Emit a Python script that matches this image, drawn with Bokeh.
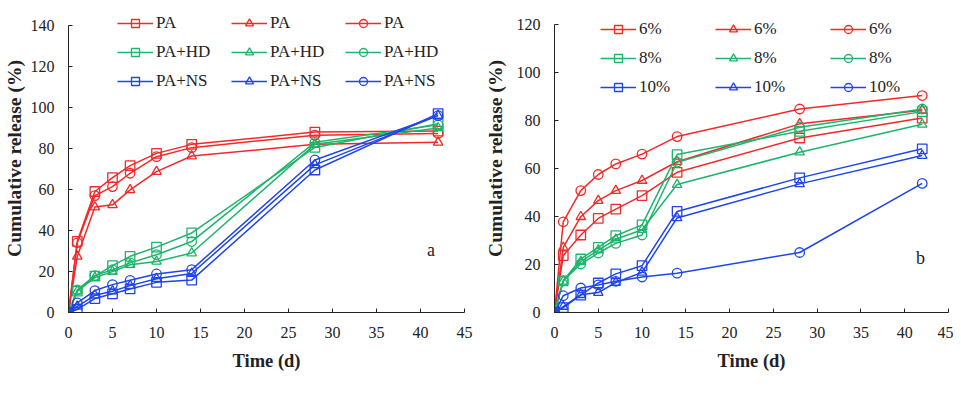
from bokeh.plotting import figure
from bokeh.models import Range1d, Legend, LegendItem, Label, SingleIntervalTicker
from bokeh.layouts import row
from bokeh.embed import file_html
from bokeh.resources import INLINE

# ---------------- data ----------------
time_d = [0, 1, 3, 5, 7, 10, 14, 28, 42]

a_labels = ["PA", "PA+HD", "PA+NS"]
a_pa_sq = [0, 34.7, 59, 65.8, 71.6, 77.6, 82, 88, 88.5]
a_pa_tri = [0, 27.4, 51.4, 52.5, 59.8, 68.7, 76.3, 82, 83]
a_pa_ci = [0, 34, 57, 61.4, 67.9, 76, 80.4, 86.5, 87.3]
a_hd_sq = [0, 10.4, 17.7, 22.9, 27.4, 31.9, 38.8, 80.5, 92]
a_hd_tri = [0, 10.4, 17, 20, 23.3, 24.9, 29, 82, 90]
a_hd_ci = [0, 11, 18, 20.9, 24.2, 28.2, 34.6, 83, 91.5]
a_ns_sq = [0, 1.5, 6.8, 9.1, 11.5, 14.7, 15.8, 69.5, 97]
a_ns_tri = [0, 3, 8.4, 10.4, 13.1, 16.5, 19, 72, 96]
a_ns_ci = [0, 4.7, 10.7, 13.6, 15.7, 18.8, 20.9, 74.4, 96]

b_labels = ["6%", "8%", "10%"]
b_6_sq = [0, 23.7, 32.3, 39.2, 43.1, 48.7, 58.4, 72.7, 81]
b_6_tri = [0, 27.1, 39.9, 46.6, 50.8, 55, 62.8, 78.6, 84.3]
b_6_ci = [0, 37.8, 50.8, 57.5, 61.9, 66, 73.3, 84.8, 90.4]
b_8_sq = [0, 13.2, 22.3, 27.1, 32, 36.5, 65.8, 75.5, 83.7]
b_8_tri = [0, 13, 21.2, 26, 30.5, 34.5, 53.3, 66.8, 78.4]
b_8_ci = [0, 13.2, 20.2, 24.8, 28.8, 32.3, 62.6, 77.2, 84.8]
b_10_sq = [0, 2, 7.2, 12.3, 16.1, 19.5, 42.1, 56.1, 68.2]
b_10_tri = [0, 2.5, 7.4, 8.3, 12.5, 16.7, 39.4, 53.6, 65.4]
b_10_ci = [0, 7, 10.2, 11.5, 13, 14.8, 16.4, 25, 53.8]

a_ymax, b_ymax = 140, 120

RED = "#F42828"
GREEN = "#1FB46C"
BLUE = "#1F44EE"
SERIF = "Liberation Serif"


def style_axes(p, ymax, ylab_standoff, ymaj_standoff):
    for ax in (p.xaxis[0], p.yaxis[0]):
        ax.axis_label_text_font = SERIF
        ax.axis_label_text_font_style = "bold"
        ax.axis_label_text_color = "#222222"
        ax.major_label_text_font = SERIF
        ax.major_label_text_font_size = "16px"
        ax.major_label_text_color = "#222222"
        ax.major_tick_in = 4
        ax.major_tick_out = 0
        ax.minor_tick_in = 0
        ax.minor_tick_out = 0
        ax.axis_line_color = "#222222"
        ax.major_tick_line_color = "#222222"
    p.xaxis[0].axis_label_text_font_size = "18.5px"
    p.yaxis[0].axis_label_text_font_size = "19.5px"
    p.xaxis[0].major_label_standoff = 14
    p.xaxis[0].axis_label_standoff = 10
    p.yaxis[0].major_label_standoff = ymaj_standoff
    p.yaxis[0].axis_label_standoff = ylab_standoff
    p.yaxis[0].bounds = (0, ymax)
    p.xaxis[0].ticker = SingleIntervalTicker(interval=5)
    p.yaxis[0].ticker = SingleIntervalTicker(interval=20)
    p.xgrid.visible = False
    p.ygrid.visible = False
    p.outline_line_color = None


STANDOFFS = {"a": (3, 14), "b": (8, 14)}


def make_panel(series, labels, ymax, ytop, width, mleft, mright, frame_h, mbottom,
               leg_loc, lab_width, letter, letter_xy):
    p = figure(width=width, height=4 + frame_h + mbottom,
               x_range=Range1d(0, 45), y_range=Range1d(0, ytop),
               output_backend="svg", toolbar_location=None,
               min_border_left=mleft, min_border_right=mright,
               min_border_top=4, min_border_bottom=mbottom)
    p.xaxis.axis_label = "Time (d)"
    p.yaxis.axis_label = "Cumulative release (%)"
    items = []
    colors = [RED, GREEN, BLUE]
    markers = ["square", "triangle", "circle"]
    for gi, grp in enumerate(series):
        for mi, ys in enumerate(grp):
            ln = p.line(time_d, ys, line_color=colors[gi], line_width=1.5)
            sc = p.scatter(time_d, ys, marker=markers[mi], size=9.5,
                           line_color=colors[gi], line_width=1.3, fill_alpha=0)
            items.append(LegendItem(label=labels[gi], renderers=[ln, sc]))
    leg = Legend(items=items, orientation="horizontal", ncols=3,
                 location=leg_loc, glyph_width=36, glyph_height=20,
                 label_height=20, label_width=lab_width, label_standoff=3,
                 spacing=9, padding=0, margin=0,
                 border_line_color=None, background_fill_alpha=0,
                 label_text_font=SERIF, label_text_font_size="17px",
                 label_text_color="#222222")
    p.add_layout(leg, "center")
    p.add_layout(Label(x=letter_xy[0], y=letter_xy[1], text=letter, text_font=SERIF,
                       text_font_size="18px", text_align="center",
                       text_baseline="middle", text_color="#222222"))
    style_axes(p, ymax, *STANDOFFS[letter])
    return p


p1 = make_panel([[a_pa_sq, a_pa_tri, a_pa_ci], [a_hd_sq, a_hd_tri, a_hd_ci], [a_ns_sq, a_ns_tri, a_ns_ci]],
                a_labels, a_ymax, a_ymax + 21 * a_ymax / 288, 478, 68, 14, 309, 70,
                (49, 221), 66, "a", (41.2, 30.6))

p2 = make_panel([[b_6_sq, b_6_tri, b_6_ci], [b_8_sq, b_8_tri, b_8_ci], [b_10_sq, b_10_tri, b_10_ci]],
                b_labels, b_ymax, b_ymax + 20 * b_ymax / 288, 475, 76, 5, 308, 71,
                (46, 215), 67, "b", (41.8, 22.8))

layout = row(p1, p2)
open("out.html", "w").write(file_html(layout, INLINE))
